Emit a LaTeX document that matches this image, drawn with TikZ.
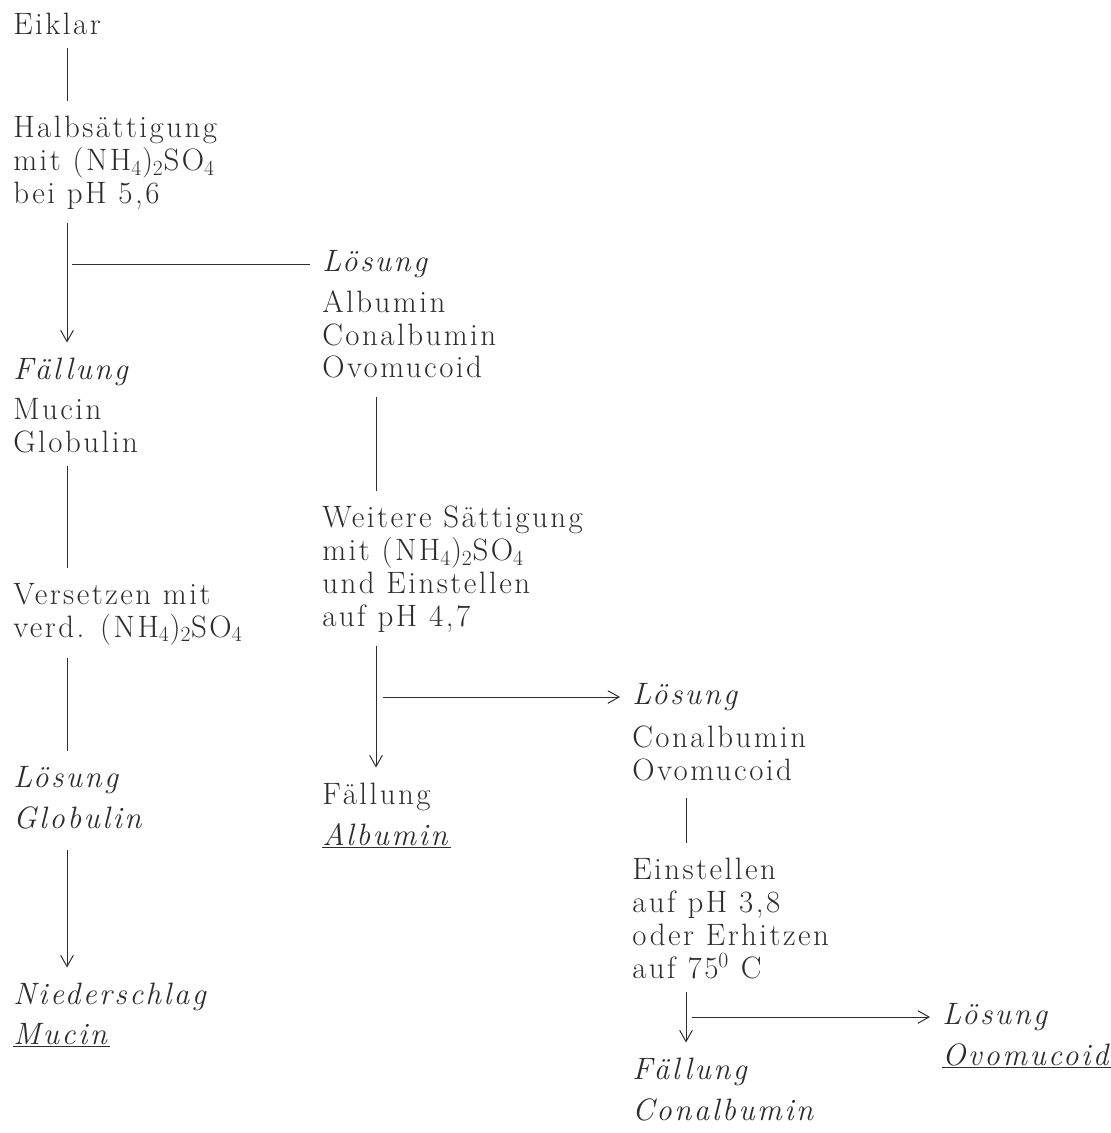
\documentclass[tikz,border=0pt]{standalone}
\usepackage{fontspec}
\setmainfont{Latin Modern Roman}[LetterSpace=8]
\usetikzlibrary{arrows.meta}
\definecolor{ink}{RGB}{45, 45, 45}
\tikzstyle{txt} = [anchor=north west, inner sep=0pt, align=left,
                   text=ink, font=\fontsize{22}{23.4}\selectfont]
\tikzstyle{line} = [draw=ink, line width=0.7pt, shorten <=9pt, shorten >=11pt]
\tikzstyle{arrow} = [line, -{Straight Barb[length=8pt, width=9pt]}]
\tikzstyle{branch} = [draw=ink, line width=0.7pt, shorten >=8.5pt]

\begin{document}
\begin{tikzpicture}[x=0.025cm, y=-0.025cm]
        \useasboundingbox (0,0) rectangle (1111,1133);

        \coordinate (colA) at (67,0);
        \coordinate (colB) at (376,0);
        \coordinate (colC) at (686,0);

        %Left column
        \node (eiklar) [txt] at (13,13) {Eiklar};
        \node (halb) [txt] at (13,116) {Halbsättigung\\mit (NH\textsubscript{4})\textsubscript{2}SO\textsubscript{4}\\bei pH 5,6};
        \node (faellA) [txt] at (13,358) {\textit{Fällung}};
        \node (faellAbody) [txt] at (13,398) {Mucin\\Globulin};
        \node (versetzen) [txt] at (13,583) {Versetzen mit\\verd. (NH\textsubscript{4})\textsubscript{2}SO\textsubscript{4}};
        \node (loesGlob) [txt] at (13,766) {\textit{Lösung}};
        \node (loesGlobBody) [txt] at (13,806) {\textit{Globulin}};
        \node (nieder) [txt] at (13,983) {\textit{Niederschlag}};
        \node (niederBody) [txt] at (13,1023) {\underline{\textit{Mucin}}};

        %Middle column
        \node (loesA) [txt] at (322,250) {\textit{Lösung}};
        \node (loesAbody) [txt] at (322,290) {Albumin\\Conalbumin\\Ovomucoid};
        \node (weitere) [txt] at (322,506) {Weitere Sättigung\\mit (NH\textsubscript{4})\textsubscript{2}SO\textsubscript{4}\\und Einstellen\\auf pH 4,7};
        \node (faellAlb) [txt] at (322,783) {Fällung};
        \node (faellAlbBody) [txt] at (322,823) {\underline{\textit{Albumin}}};

        %Right column
        \node (loesC) [txt] at (632,683) {\textit{Lösung}};
        \node (loesCbody) [txt] at (632,726) {Conalbumin\\Ovomucoid};
        \node (einstellen) [txt] at (632,858) {Einstellen\\auf pH 3,8\\oder Erhitzen\\auf 75\textsuperscript{0} C};
        \node (faellCon) [txt] at (632,1058) {\textit{Fällung}};
        \node (faellConBody) [txt] at (632,1098) {\textit{Conalbumin}};
        \node (loesOvo) [txt] at (942,1003) {\textit{Lösung}};
        \node (loesOvoBody) [txt] at (942,1043) {\underline{\textit{Ovomucoid}}};

        %Lines in left column
        \draw [line] (eiklar.south -| colA) -- (halb.north -| colA);
        \draw [arrow] (halb.south -| colA) -- (faellA.north -| colA);
        \draw [line] (faellAbody.south -| colA) -- (versetzen.north -| colA);
        \draw [line] (versetzen.south -| colA) -- (loesGlob.north -| colA);
        \draw [arrow, shorten <=15pt] (loesGlobBody.south -| colA) -- (nieder.north -| colA);

        %Lines in middle column
        \draw [branch] (loesA.west -| colA) ++(5,0) -- (loesA.west);
        \draw [line, shorten <=13pt] (loesAbody.south -| colB) -- (weitere.north -| colB);
        \draw [arrow] (weitere.south -| colB) -- (faellAlb.north -| colB);

        %Lines in right column
        \draw [branch, -{Straight Barb[length=8pt, width=9pt]}] (loesC.west -| colB) ++(7,0) -- (loesC.west);
        \draw [line, shorten <=12pt] (loesCbody.south -| colC) -- (einstellen.north -| colC);
        \draw [arrow] (einstellen.south -| colC) -- (faellCon.north -| colC);
        \draw [branch, -{Straight Barb[length=8pt, width=9pt]}] (loesOvo.west -| colC) ++(6,0) -- (loesOvo.west);

\end{tikzpicture}
\end{document}
